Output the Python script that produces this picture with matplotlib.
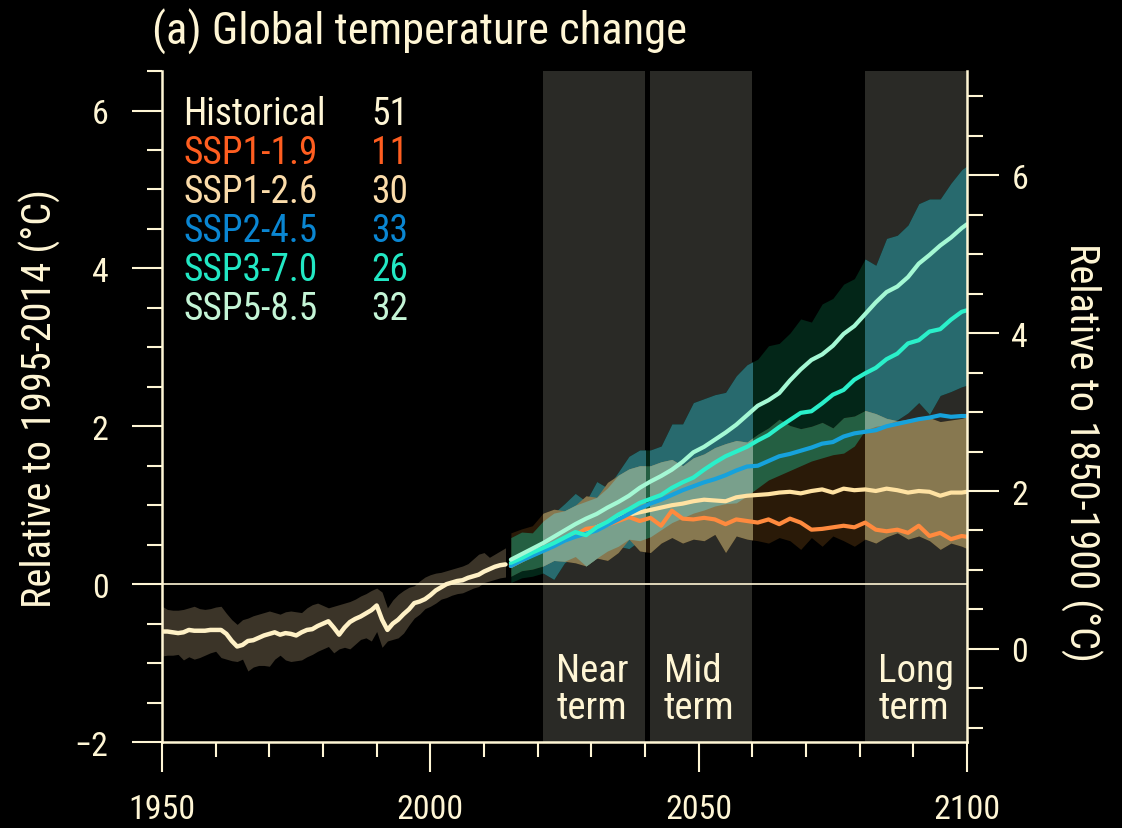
import numpy as np
import matplotlib

matplotlib.use("Agg")
import matplotlib.pyplot as plt
from matplotlib.patches import Rectangle

plt.rcParams["font.family"] = ["Roboto Condensed", "Liberation Sans Narrow", "Liberation Sans",
                               "DejaVu Sans"]

# 1995-2014 baseline expressed relative to 1850-1900
OFFSET = 0.82

hist_years = np.arange(1950, 2015)
hist_mean = [
    -0.60, -0.60, -0.61, -0.62, -0.61, -0.58, -0.59, -0.59, -0.59, -0.58,
    -0.58, -0.58, -0.63, -0.72, -0.79, -0.77, -0.72, -0.71, -0.68, -0.65,
    -0.63, -0.61, -0.64, -0.62, -0.63, -0.65, -0.61, -0.58, -0.57, -0.53,
    -0.50, -0.47, -0.55, -0.64, -0.55, -0.48, -0.44, -0.41, -0.37, -0.33,
    -0.27, -0.45, -0.58, -0.50, -0.45, -0.38, -0.32, -0.24, -0.22, -0.19,
    -0.14, -0.08, -0.04, 0.00, 0.02, 0.04, 0.05, 0.08, 0.10, 0.12,
    0.16, 0.19, 0.22, 0.24, 0.25,
]
hist_hi = [
    -0.28, -0.32, -0.33, -0.33, -0.32, -0.30, -0.28, -0.31, -0.32, -0.31,
    -0.29, -0.28, -0.37, -0.45, -0.51, -0.45, -0.43, -0.40, -0.38, -0.36,
    -0.34, -0.36, -0.38, -0.35, -0.34, -0.35, -0.36, -0.30, -0.26, -0.24,
    -0.27, -0.30, -0.28, -0.26, -0.24, -0.22, -0.19, -0.15, -0.12, -0.08,
    -0.05, -0.10, -0.30, -0.20, -0.13, -0.08, -0.04, -0.02, 0.04, 0.09,
    0.12, 0.14, 0.15, 0.17, 0.19, 0.21, 0.23, 0.26, 0.32, 0.38,
    0.40, 0.34, 0.38, 0.42, 0.46,
]
hist_lo = [
    -0.91, -0.90, -0.90, -0.89, -0.96, -0.92, -0.95, -0.93, -0.90, -0.87,
    -0.85, -0.93, -0.95, -0.97, -0.98, -0.95, -1.10, -1.05, -1.03, -1.03,
    -1.04, -0.95, -0.90, -0.96, -0.98, -0.97, -0.96, -0.92, -0.89, -0.85,
    -0.82, -0.79, -0.87, -0.82, -0.80, -0.82, -0.76, -0.70, -0.68, -0.72,
    -0.60, -0.80, -0.72, -0.70, -0.68, -0.62, -0.52, -0.43, -0.38, -0.31,
    -0.28, -0.24, -0.19, -0.17, -0.14, -0.12, -0.11, -0.08, -0.05, -0.03,
    0.02, 0.04, 0.06, 0.08, 0.09,
]

proj_years = [
    2015, 2017, 2019, 2021, 2023, 2025, 2027, 2029, 2031, 2033, 2035,
    2037, 2039, 2041, 2043, 2045, 2047, 2049, 2051, 2053, 2055, 2057,
    2059, 2061, 2063, 2065, 2067, 2069, 2071, 2073, 2075, 2077, 2079,
    2081, 2083, 2085, 2087, 2089, 2091, 2093, 2095, 2097, 2099, 2100,
]
ssp119 = [
    0.23, 0.30, 0.37, 0.43, 0.50, 0.58, 0.62, 0.70, 0.72, 0.75, 0.80,
    0.85, 0.80, 0.84, 0.74, 0.93, 0.83, 0.82, 0.84, 0.82, 0.76, 0.82,
    0.80, 0.78, 0.82, 0.76, 0.83, 0.78, 0.69, 0.70, 0.72, 0.74, 0.72,
    0.78, 0.69, 0.67, 0.69, 0.65, 0.74, 0.61, 0.65, 0.57, 0.61, 0.60,
]
ssp126 = [
    0.25, 0.32, 0.38, 0.44, 0.50, 0.57, 0.62, 0.66, 0.72, 0.78, 0.84,
    0.88, 0.91, 0.94, 0.97, 1.00, 1.02, 1.05, 1.07, 1.06, 1.05, 1.10,
    1.12, 1.13, 1.14, 1.16, 1.17, 1.15, 1.18, 1.20, 1.16, 1.21, 1.19,
    1.20, 1.18, 1.21, 1.19, 1.16, 1.18, 1.17, 1.12, 1.16, 1.16, 1.17,
]
ssp245 = [
    0.23, 0.30, 0.36, 0.42, 0.48, 0.55, 0.60, 0.64, 0.68, 0.75, 0.82,
    0.89, 0.96, 1.02, 1.07, 1.13, 1.19, 1.24, 1.29, 1.33, 1.38, 1.44,
    1.49, 1.50, 1.56, 1.62, 1.65, 1.69, 1.73, 1.78, 1.80, 1.87, 1.91,
    1.93, 1.95, 2.00, 2.03, 2.06, 2.09, 2.11, 2.14, 2.12, 2.13, 2.13,
]
ssp370 = [
    0.27, 0.33, 0.40, 0.46, 0.52, 0.59, 0.66, 0.62, 0.72, 0.79, 0.88,
    0.95, 1.03, 1.08, 1.13, 1.22, 1.29, 1.35, 1.45, 1.54, 1.62, 1.68,
    1.74, 1.82, 1.89, 1.99, 2.08, 2.17, 2.19, 2.29, 2.40, 2.46, 2.59,
    2.67, 2.74, 2.85, 2.92, 3.05, 3.09, 3.20, 3.23, 3.35, 3.45, 3.47,
]
ssp585 = [
    0.31, 0.38, 0.45, 0.52, 0.60, 0.68, 0.76, 0.83, 0.89, 0.97, 1.04,
    1.12, 1.22, 1.30, 1.37, 1.45, 1.55, 1.67, 1.74, 1.83, 1.92, 2.02,
    2.14, 2.26, 2.33, 2.42, 2.58, 2.72, 2.84, 2.91, 3.02, 3.17, 3.27,
    3.42, 3.57, 3.70, 3.77, 3.89, 4.06, 4.17, 4.29, 4.39, 4.51, 4.56,
]

# 5-95 % ranges shown for SSP1-2.6 and SSP3-7.0
ssp126_hi = [
    0.65, 0.70, 0.74, 0.90, 0.95, 0.93, 1.00, 1.12, 1.10, 1.29, 1.38,
    1.46, 1.50, 1.50, 1.55, 1.58, 1.50, 1.60, 1.65, 1.73, 1.78, 1.82,
    1.80, 1.90, 1.98, 2.09, 2.01, 1.97, 2.00, 2.05, 1.98, 2.11, 2.13,
    2.20, 2.16, 2.10, 2.07, 2.09, 2.10, 2.11, 2.06, 2.08, 2.10, 2.12,
]
ssp126_lo = [
    0.10, 0.17, 0.19, 0.23, 0.30, 0.29, 0.27, 0.23, 0.33, 0.30, 0.40,
    0.57, 0.42, 0.40, 0.52, 0.59, 0.52, 0.57, 0.55, 0.63, 0.40, 0.61,
    0.57, 0.55, 0.52, 0.59, 0.55, 0.44, 0.59, 0.48, 0.61, 0.55, 0.48,
    0.57, 0.52, 0.60, 0.65, 0.57, 0.61, 0.55, 0.44, 0.52, 0.48, 0.45,
]
ssp370_hi = [
    0.59, 0.66, 0.65, 0.80, 0.90, 1.02, 1.15, 1.05, 1.30, 1.22, 1.42,
    1.62, 1.70, 1.70, 1.75, 2.03, 2.03, 2.30, 2.35, 2.40, 2.43, 2.64,
    2.78, 2.85, 3.02, 3.05, 3.18, 3.36, 3.32, 3.55, 3.62, 3.80, 3.87,
    4.12, 4.04, 4.38, 4.42, 4.55, 4.82, 4.88, 4.88, 5.08, 5.25, 5.30,
]
ssp370_lo = [
    0.02, 0.08, 0.10, 0.14, 0.06, 0.27, 0.35, 0.23, 0.33, 0.42, 0.48,
    0.45, 0.55, 0.60, 0.69, 0.78, 0.84, 0.90, 0.94, 0.99, 1.02, 1.03,
    1.12, 1.22, 1.32, 1.38, 1.44, 1.50, 1.56, 1.60, 1.64, 1.66, 1.75,
    1.95, 2.00, 2.02, 2.08, 2.17, 2.30, 2.15, 2.39, 2.44, 2.50, 2.52,
]

scenarios = ["Historical", "SSP1-1.9", "SSP1-2.6", "SSP2-4.5", "SSP3-7.0", "SSP5-8.5"]
n_models = [51, 11, 30, 33, 26, 32]

periods = [(2021, 2040, "Near\nterm"), (2041, 2060, "Mid\nterm"), (2081, 2100, "Long\nterm")]

CREAM = "#fff6d5"
SHADE = "#2a2a26"
text_colors = ["#fff6d5", "#ff5e20", "#fbdcaa", "#0a86d2", "#22e8c4", "#c4f5d6"]
line_colors = ["#fff1c6", "#ff8a3e", "#ffe2a2", "#16a2dc", "#2af0ca", "#a4f8d4"]

# band fills: (SSP3-7.0 only, SSP1-2.6 only, overlap), outside / inside the periods
band_out = ["#032618", "#2a1a08", "#245f42"]
band_in = ["#286a6e", "#877850", "#79a08c"]

fig = plt.figure(figsize=(11.22, 8.29), dpi=100, facecolor="black")
ax = fig.add_axes([0.1444, 0.1037, 0.7175, 0.8094])
ax.set_facecolor("black")
ax.set_xlim(1950, 2100)
ax.set_ylim(-2, 6.5)

for start, end, _ in periods:
    ax.axvspan(start, end, color=SHADE, lw=0, zorder=0)

ax.fill_between(hist_years, hist_lo, hist_hi, color="#3b3428", lw=0, zorder=1)

lo_ov = np.maximum(ssp126_lo, ssp370_lo)
hi_ov = np.minimum(ssp126_hi, ssp370_hi)


def draw_bands(colors, clip=None):
    arts = [
        ax.fill_between(proj_years, ssp370_lo, ssp370_hi, color=colors[0], lw=0, zorder=1),
        ax.fill_between(proj_years, ssp126_lo, ssp126_hi, color=colors[1], lw=0, zorder=1),
        ax.fill_between(proj_years, lo_ov, hi_ov, where=lo_ov < hi_ov, interpolate=True,
                        color=colors[2], lw=0, zorder=1),
    ]
    if clip is not None:
        for a in arts:
            a.set_clip_path(clip)


draw_bands(band_out)
for start, end, _ in periods:
    box = Rectangle((start, -2), end - start, 8.5, transform=ax.transData)
    draw_bands(band_in, clip=box)

ax.axhline(0, color=CREAM, lw=1.2, zorder=3)

ax.plot(hist_years, hist_mean, color=line_colors[0], lw=3.2, zorder=4, solid_capstyle="round")
for vals, col in zip([ssp126, ssp119, ssp245, ssp370, ssp585], [line_colors[2], line_colors[1],
                                                                 line_colors[3], line_colors[4],
                                                                 line_colors[5]]):
    ax.plot(proj_years, vals, color=col, lw=3, zorder=4, solid_capstyle="round")

# legend written as a two-column table
for i, (name, n) in enumerate(zip(scenarios, n_models)):
    y = 5.83 - 0.495 * i
    ax.text(1954, y, name, color=text_colors[i], fontsize=27, va="baseline", zorder=5)
    ax.text(1989, y, str(n), color=text_colors[i], fontsize=27, va="baseline", zorder=5)

for start, end, label in periods:
    ax.text(start + 2.5, -1.69, label, color=CREAM, fontsize=28, va="baseline",
            linespacing=1.0, zorder=5)

# axes styling
for side in ["top", "right"]:
    ax.spines[side].set_visible(False)
for side in ["left", "bottom"]:
    ax.spines[side].set_color(CREAM)
    ax.spines[side].set_linewidth(1.8)

ax.set_xticks([1950, 2000, 2050, 2100])
ax.set_xticks(np.arange(1950, 2101, 10), minor=True)
ax.set_yticks([-2, 0, 2, 4, 6])
ax.set_yticks(np.arange(-2, 6.51, 0.5), minor=True)
ax.tick_params(which="major", length=21.6, width=1.5, color=CREAM, labelcolor=CREAM,
               labelsize=24.5)
ax.tick_params(which="minor", length=11, width=1.5, color=CREAM)
ax.tick_params(axis="x", pad=15)
ax.tick_params(axis="y", pad=17)

ax2 = ax.twinx()
ax2.set_ylim(-2 + OFFSET, 6.5 + OFFSET)
for side in ["top", "left", "bottom"]:
    ax2.spines[side].set_visible(False)
ax2.spines["right"].set_color(CREAM)
ax2.spines["right"].set_linewidth(1.8)
ax2.set_yticks([0, 2, 4, 6])
ax2.set_yticks(np.arange(-1, 7.01, 0.5), minor=True)
ax2.tick_params(which="major", length=23, width=1.5, color=CREAM, labelcolor=CREAM,
                labelsize=24.5, pad=9)
ax2.tick_params(which="minor", length=11.5, width=1.5, color=CREAM)

fig.text(152 / 1122, 1 - 32 / 829, "(a) Global temperature change", color=CREAM,
         fontsize=32, ha="left", va="center")
fig.text(40 / 1122, 1 - 398 / 829, "Relative to 1995-2014 (°C)", color=CREAM,
         fontsize=29, rotation=90, ha="center", va="center")
fig.text(1081 / 1122, 1 - 452 / 829, "Relative to 1850-1900 (°C)", color=CREAM,
         fontsize=29, rotation=270, ha="center", va="center")

fig.savefig("out.png", dpi=100, facecolor="black")
